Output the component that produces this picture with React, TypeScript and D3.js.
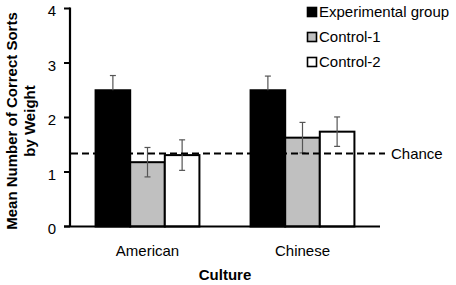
import React from "react";
import * as d3 from "d3";

const cultures = ["American", "Chinese"];
const groups = ["Experimental group", "Control-1", "Control-2"];
const groupColors = ["#000000", "#c0c0c0", "#ffffff"];
const americanMeans = [2.5, 1.18, 1.31];
const chineseMeans = [2.5, 1.63, 1.74];
const americanErrors = [0.27, 0.27, 0.28];
const chineseErrors = [0.26, 0.28, 0.27];
const chanceLevel = 1.34;
const yTicks = [0, 1, 2, 3, 4];

const W = 456;
const H = 285;
const FONT = "Liberation Sans, Arial, Helvetica, sans-serif";

export default function App() {
  const x0 = d3.scaleBand<string>().domain(cultures).range([70, 380]).paddingInner(0.33).paddingOuter(0.165);
  const x1 = d3.scaleBand<string>().domain(groups).range([0, x0.bandwidth()]).padding(0);
  const y = d3.scaleLinear().domain([0, 4]).range([226.5, 8.5]);

  const data = cultures.map((c, ci) => ({
    culture: c,
    values: groups.map((g, gi) => ({
      group: g,
      mean: ci === 0 ? americanMeans[gi] : chineseMeans[gi],
      err: ci === 0 ? americanErrors[gi] : chineseErrors[gi],
      color: groupColors[gi],
    })),
  }));

  return (
    <svg width={W} height={H} style={{ position: "absolute", left: 0, top: 0, background: "#fff", fontFamily: FONT }}>
      {data.map((d) => (
        <g key={d.culture} transform={`translate(${x0(d.culture)},0)`}>
          {d.values.map((v) => (
            <rect
              key={v.group}
              x={x1(v.group)}
              y={y(v.mean)}
              width={x1.bandwidth()}
              height={y(0) - y(v.mean)}
              fill={v.color}
              stroke="#000"
              strokeWidth={2}
            />
          ))}
        </g>
      ))}
      {data.map((d) => (
        <g key={d.culture + "e"} transform={`translate(${x0(d.culture)},0)`}>
          {d.values.map((v) => {
            const cx = (x1(v.group) as number) + x1.bandwidth() / 2;
            const top = y(v.mean + v.err);
            const bot = v.color === "#000000" ? y(v.mean) : y(v.mean - v.err);
            return (
              <g key={v.group} stroke="#555" strokeWidth={1.2}>
                <line x1={cx} x2={cx} y1={top} y2={bot} />
                <line x1={cx - 3} x2={cx + 3} y1={top} y2={top} />
                {v.color !== "#000000" && <line x1={cx - 3} x2={cx + 3} y1={bot} y2={bot} />}
              </g>
            );
          })}
        </g>
      ))}
      <line x1={71} x2={385} y1={y(chanceLevel)} y2={y(chanceLevel)} stroke="#000" strokeWidth={2} strokeDasharray="7,4" />
      <text x={391} y={y(chanceLevel)} dy="0.35em" fontSize={15} fill="#000">Chance</text>
      <line x1={70} x2={70} y1={y(4) - 1} y2={y(0)} stroke="#000" strokeWidth={2.2} />
      <line x1={64} x2={380} y1={y(0)} y2={y(0)} stroke="#000" strokeWidth={2.2} />
      {yTicks.map((t) => (
        <g key={t}>
          <line x1={64} x2={70} y1={y(t)} y2={y(t)} stroke="#000" strokeWidth={2} />
          <text x={56} y={y(t) + 2.5} dy="0.35em" textAnchor="end" fontSize={15} fill="#000">{t}</text>
        </g>
      ))}
      {cultures.map((c) => (
        <text key={c} x={(x0(c) as number) + x0.bandwidth() / 2} y={251} dy="0.35em" textAnchor="middle" fontSize={15} fill="#000">{c}</text>
      ))}
      <text x={225} y={275} dy="0.35em" textAnchor="middle" fontSize={15} fontWeight="bold" fill="#000">Culture</text>
      <text transform="translate(12,121) rotate(-90)" dy="0.35em" textAnchor="middle" fontSize={15} fontWeight="bold" fill="#000">Mean Number of Correct Sorts</text>
      <text transform="translate(30,121) rotate(-90)" dy="0.35em" textAnchor="middle" fontSize={15} fontWeight="bold" fill="#000">by Weight</text>
      {groups.map((g, i) => (
        <g key={g} transform={`translate(307,${12 + i * 25})`}>
          <rect x={0.5} y={-4.5} width={9} height={9} fill={groupColors[i]} stroke="#000" strokeWidth={1.6} />
          <text x={12} y={0} dy="0.35em" fontSize={15} fill="#000">{g}</text>
        </g>
      ))}
    </svg>
  );
}
